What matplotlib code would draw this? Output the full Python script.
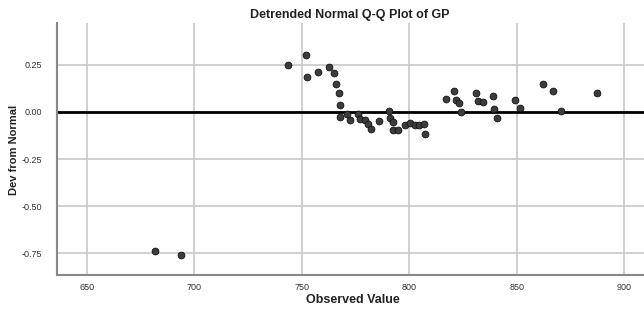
import matplotlib
matplotlib.use("Agg")
import matplotlib.pyplot as plt

plt.rcParams['font.family'] = ['Liberation Sans', 'DejaVu Sans']

observed = [681.7, 693.7, 743.5, 751.9, 752.3, 757.8, 762.8, 765.1, 766.0, 767.4,
            767.6, 767.7, 771.0, 772.3, 776.0, 777.3, 779.4, 780.7, 782.1, 786.1,
            790.5, 791.3, 792.4, 792.6, 794.8, 798.1, 800.6, 802.5, 804.6, 807.1,
            807.3, 817.0, 821.0, 821.6, 823.3, 824.0, 830.9, 831.9, 834.5, 838.9,
            839.3, 841.0, 849.0, 851.7, 862.2, 867.0, 870.6, 887.4]
deviation = [-0.739, -0.757, 0.248, 0.304, 0.184, 0.2125, 0.2375, 0.205, 0.146, 0.100,
             0.0375, -0.029, -0.0125, -0.041, -0.014, -0.039, -0.041, -0.066, -0.091, -0.046,
             0.007, -0.032, -0.054, -0.095, -0.095, -0.071, -0.061, -0.071, -0.068, -0.064,
             -0.116, 0.066, 0.109, 0.0625, 0.048, -0.002, 0.100, 0.059, 0.054, 0.082,
             0.0125, -0.034, 0.0625, 0.021, 0.146, 0.111, 0.002, 0.098]

x_ticks = [650, 700, 750, 800, 850, 900]
y_ticks = [0.25, 0.00, -0.25, -0.50, -0.75]

fig = plt.figure(figsize=(6.44, 3.13), dpi=100)
ax = fig.add_axes([0.0885, 0.1214, 0.9115, 0.8051])

ax.set_xlim(636.2, 909.2)
ax.set_ylim(-0.865, 0.471)

ax.set_xticks(x_ticks)
ax.set_yticks(y_ticks)
ax.set_xticklabels([str(v) for v in x_ticks])
ax.set_yticklabels([f"{v:.2f}" for v in y_ticks])
ax.tick_params(length=0, labelsize=6.5, colors='#333333')
ax.tick_params(axis='x', pad=6)
ax.tick_params(axis='y', pad=11)

ax.grid(True, color='#c8c8c8', linewidth=1.2)
ax.set_axisbelow(True)

ax.axhline(0, color='black', linewidth=2, zorder=2)

ax.scatter(observed, deviation, s=24, color='#3c3c3c', edgecolor='#111111',
           linewidth=0.6, zorder=3)

for side in ['top', 'right']:
    ax.spines[side].set_visible(False)
for side in ['left', 'bottom']:
    ax.spines[side].set_color('#888888')
    ax.spines[side].set_linewidth(1.5)

fig.text(0.543, 0.952, "Detrended Normal Q-Q Plot of GP", ha='center', va='center',
         fontsize=9, fontweight='bold', color='#222222')
fig.text(0.548, 0.040, "Observed Value", ha='center', va='center',
         fontsize=9, fontweight='bold', color='#222222')
fig.text(0.022, 0.52, "Dev from Normal", ha='center', va='center', rotation=90,
         fontsize=8, fontweight='bold', color='#222222')

fig.savefig("out.png", dpi=100)
